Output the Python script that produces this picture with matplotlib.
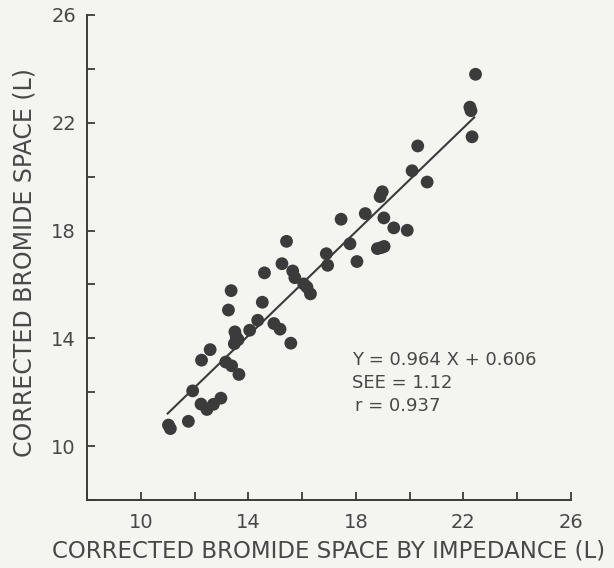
import numpy as np
import matplotlib
matplotlib.use("Agg")
import matplotlib.pyplot as plt

# valeurs
impedance_x = [11.03, 11.10, 11.77, 11.93, 12.26, 12.58, 12.24, 12.46, 12.70, 12.98,
               13.16, 13.38, 13.65, 13.26, 13.36, 13.50, 13.55, 13.48, 13.62, 14.05,
               14.35, 14.52, 14.60, 14.95, 15.18, 15.58, 15.25, 15.42, 15.65, 15.73,
               16.06, 16.18, 16.31, 16.90, 16.95, 17.45, 17.78, 18.04, 18.35, 18.80,
               18.95, 19.05, 19.04, 19.41, 19.91, 18.90, 18.98, 20.09, 20.30, 20.65,
               22.24, 22.28, 22.32, 22.45]
bromide_y = [10.78, 10.65, 10.92, 12.05, 13.19, 13.58, 11.56, 11.36, 11.55, 11.78,
             13.12, 12.98, 12.66, 15.05, 15.77, 14.24, 14.05, 13.80, 13.95, 14.30,
             14.67, 15.34, 16.43, 14.55, 14.34, 13.82, 16.77, 17.60, 16.50, 16.25,
             16.02, 15.90, 15.65, 17.14, 16.71, 18.42, 17.51, 16.85, 18.63, 17.33,
             17.37, 17.41, 18.47, 18.10, 18.01, 19.26, 19.44, 20.22, 21.14, 19.80,
             22.58, 22.45, 21.48, 23.80]

slope, intercept = 0.964, 0.606
fit_range = [11.0, 22.4]
ticks = [8, 10, 12, 14, 16, 18, 20, 22, 24, 26]
tick_labels = ["", "10", "", "14", "", "18", "", "22", "", "26"]

ink = "#3b3b3b"
text_col = "#484848"
paper = "#f4f4f1"

fig = plt.figure(figsize=(6.14, 5.68), dpi=100, facecolor=paper)
ax = fig.add_axes([87 / 614, 68 / 568, 484 / 614, 485 / 568], facecolor=paper)

ax.scatter(impedance_x, bromide_y, s=85, color=ink, edgecolors="none", zorder=3)
fx = np.array(fit_range)
ax.plot(fx, slope * fx + intercept, color=ink, lw=1.5, zorder=2)

ax.set_xlim(8, 26)
ax.set_ylim(8, 26)
ax.set_xticks(ticks)
ax.set_xticklabels(tick_labels)
ax.set_yticks(ticks)
ax.set_yticklabels(tick_labels)
for side in ["top", "right"]:
    ax.spines[side].set_visible(False)
for side in ["left", "bottom"]:
    ax.spines[side].set_color(ink)
    ax.spines[side].set_linewidth(1.4)
ax.tick_params(direction="in", length=6, width=1.3, color=ink,
               labelcolor=text_col, labelsize=14, pad=9)
ax.tick_params(axis="y", pad=8)

ax.set_xlabel("CORRECTED BROMIDE SPACE BY IMPEDANCE (L)", fontsize=16.5,
              color=text_col, labelpad=6)
ax.set_ylabel("CORRECTED BROMIDE SPACE (L)", fontsize=17, color=text_col)
ax.yaxis.set_label_coords(-0.105, 0.49)

ax.text(17.87, 13.2, "Y = 0.964 X + 0.606", fontsize=13, color=text_col, va="center")
ax.text(17.87, 12.35, "SEE = 1.12", fontsize=13, color=text_col, va="center")
ax.text(17.95, 11.5, "r = 0.937", fontsize=13, color=text_col, va="center")

fig.savefig("out.png", dpi=100, facecolor=paper)
plt.close(fig)
